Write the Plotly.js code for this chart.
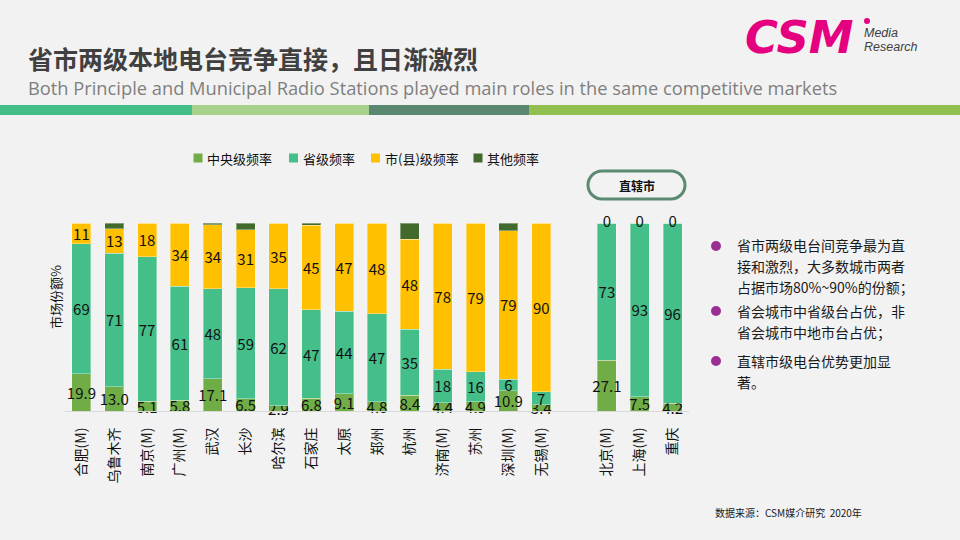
<!DOCTYPE html>
<html>
<head>
<meta charset="utf-8">
<script src="https://cdn.plot.ly/plotly-3.0.1.min.js"></script>
<style>
html,body{margin:0;padding:0;background:#F2F2F2;}
#chart{width:960px;height:540px;}
</style>
</head>
<body>
<div id="chart"></div>
<script>
// ---------- data ----------
const provincialCities = ['合肥(M)','乌鲁木齐','南京(M)','广州(M)','武汉','长沙','哈尔滨','石家庄','太原','郑州','杭州','济南(M)','苏州','深圳(M)','无锡(M)'];
const directCities = ['北京(M)','上海(M)','重庆'];
const cities = provincialCities.concat(directCities);

const centralShare = [19.9,13.0,5.1,5.8,17.1,6.5,2.9,6.8,9.1,4.8,8.4,4.4,4.9,10.9,3.4, 27.1,7.5,4.2];
const provinceShare = [69,71,77,61,48,59,62,47,44,47,35,18,16,6,7, 73,93,96];
const cityShare = [11,13,18,34,34,31,35,45,47,48,48,78,79,79,90, 0,0,0];
const otherShare = [0.1,3,0,0,0.9,3.5,0.1,1.2,0,0.2,8.6,0,0,4.1,0, 0,0,0];

const seriesNames = ['中央级频率','省级频率','市(县)级频率','其他频率'];
const seriesColors = ['#70AD47','#45BF8A','#FFC000','#436A2D'];

const bulletLines = [
  ['省市两级电台间竞争最为直','接和激烈，大多数城市两者','占据市场80%~90%的份额；'],
  ['省会城市中省级台占优，非','省会城市中地市台占优；'],
  ['直辖市级电台优势更加显','著。']
];

// ---------- layout helpers (pixel -> paper) ----------
const M = {l:65, r:271, t:223, b:129};
const PW = 960 - M.l - M.r, PH = 540 - M.t - M.b;
const px = x => (x - M.l) / PW;
const py = y => (540 - M.b - y) / PH;
const CJK = '"Noto Sans CJK SC", "Noto Sans", sans-serif';

const spacer = ' ';
const axisOrder = provincialCities.concat([spacer], directCities);

function barTrace(i, values, labels) {
  return {
    type: 'bar', name: seriesNames[i], x: cities, y: values, showlegend: false,
    marker: {color: seriesColors[i], line: {color: 'rgba(255,255,255,0.35)', width: 1}},
    text: labels, textposition: labels ? 'inside' : 'none',
    insidetextanchor: 'middle', textangle: 0,
    textfont: {family: CJK, size: 15, color: '#111111'},
    cliponaxis: false, hoverinfo: 'skip'
  };
}

const cityLabels = cityShare.map((v, i) => directCities.includes(cities[i]) ? '' : String(v));
const traces = [
  barTrace(0, centralShare, centralShare.map(v => v.toFixed(1))),
  barTrace(1, provinceShare, provinceShare.map(v => String(v))),
  barTrace(2, cityShare, cityLabels),
  barTrace(3, otherShare, null)
];
// zero-height city segments of the direct-controlled municipalities: label at stack top
const directIdx = directCities.map(c => cities.indexOf(c));
traces.push({
  type: 'scatter', mode: 'text', showlegend: false, hoverinfo: 'skip',
  x: directCities, y: directIdx.map(() => 100),
  text: directIdx.map(i => String(cityShare[i])),
  textposition: 'middle center', cliponaxis: false,
  textfont: {family: CJK, size: 15, color: '#111111'}
});

// ---------- decorations ----------
function pillPath(x0, y0, x1, y1) {
  const r = (y1 - y0) / 2, k = 0.5523 * r;
  const P = (x, y) => px(x).toFixed(5) + ',' + py(y).toFixed(5);
  return 'M' + P(x0 + r, y0) + ' L' + P(x1 - r, y0) +
    ' C' + P(x1 - r + k, y0) + ' ' + P(x1, y0 + r - k) + ' ' + P(x1, y0 + r) +
    ' C' + P(x1, y0 + r + k) + ' ' + P(x1 - r + k, y1) + ' ' + P(x1 - r, y1) +
    ' L' + P(x0 + r, y1) +
    ' C' + P(x0 + r - k, y1) + ' ' + P(x0, y0 + r + k) + ' ' + P(x0, y0 + r) +
    ' C' + P(x0, y0 + r - k) + ' ' + P(x0 + r - k, y0) + ' ' + P(x0 + r, y0) + ' Z';
}
function rectShape(x0, y0, x1, y1, color, layer) {
  return {type: 'rect', xref: 'paper', yref: 'paper', x0: px(x0), x1: px(x1), y0: py(y1), y1: py(y0),
    fillcolor: color, line: {width: 0}, layer: layer || 'below'};
}
function circleShape(cx, cy, r, color) {
  return {type: 'circle', xref: 'paper', yref: 'paper', x0: px(cx - r), x1: px(cx + r), y0: py(cy + r), y1: py(cy - r),
    fillcolor: color, line: {width: 0}};
}

const shapes = [
  rectShape(0, 105, 192, 115, '#44BD87'),
  rectShape(192, 105, 369, 115, '#A8D18C'),
  rectShape(369, 105, 529, 115, '#5A8770'),
  rectShape(529, 105, 960, 115, '#92C050'),
  {type: 'path', xref: 'paper', yref: 'paper', path: pillPath(588, 171, 685, 199),
   fillcolor: '#F2F2F2', line: {color: '#5B8A72', width: 3}},
  circleShape(716, 246, 5, '#9A2E92'),
  circleShape(716, 311, 5, '#9A2E92'),
  circleShape(716, 361, 5, '#9A2E92'),
  circleShape(867, 21, 3, '#E4007F')
];

function ann(text, x, y, opts) {
  return Object.assign({text: text, xref: 'paper', yref: 'paper', x: px(x), y: py(y),
    xanchor: 'left', yanchor: 'middle', showarrow: false,
    font: {family: CJK, size: 14, color: '#1a1a1a'}}, opts || {});
}

const annotations = [
  ann('<b>省市两级本地电台竞争直接，且日渐激烈</b>', 26, 58, {font: {family: CJK, size: 25, color: '#404040'}}),
  ann('Both Principle and Municipal Radio Stations played main roles in the same competitive markets', 26, 87,
      {font: {family: '"Open Sans", "Noto Sans", sans-serif', size: 18.3, color: '#7F7F7F'}}),
  ann('CSM', 799, 37, {xanchor: 'center', font: {family: '"DejaVu Sans", sans-serif', size: 45, color: '#E4007F', weight: 900, style: 'italic'}}),
  ann('Media', 862, 33, {font: {family: '"Liberation Sans", sans-serif', size: 12.5, color: '#404040', style: 'italic'}}),
  ann('Research', 862, 47, {font: {family: '"Liberation Sans", sans-serif', size: 12.5, color: '#404040', style: 'italic'}}),
  ann('<b>直辖市</b>', 636.5, 185, {xanchor: 'center', font: {family: CJK, size: 12, color: '#111111'}}),
  ann('市场份额%', 55, 297, {xanchor: 'center', textangle: -90, font: {family: CJK, size: 13, color: '#111111'}}),
  ann('数据来源：CSM媒介研究  2020年', 713, 512, {font: {family: CJK, size: 10, color: '#1a1a1a'}})
];
const bulletY = [[245, 266, 287], [311, 332], [361, 382]];
bulletLines.forEach((lines, b) => lines.forEach((t, j) => annotations.push(ann(t, 735, bulletY[b][j]))));

// legend drawn as key squares + labels, one per series
const legendKeyX = [198, 293.5, 375.5, 478];
seriesNames.forEach((name, i) => {
  shapes.push(rectShape(legendKeyX[i] - 4.5, 153.5, legendKeyX[i] + 4.5, 162.5, seriesColors[i], 'above'));
  annotations.push(ann(name, legendKeyX[i] + 7, 158, {font: {family: CJK, size: 13, color: '#111111'}}));
});

const layout = {
  width: 960, height: 540,
  paper_bgcolor: '#F2F2F2', plot_bgcolor: '#F2F2F2',
  margin: M,
  barmode: 'stack', barnorm: 'percent', bargap: 0.42,
  uniformtext: {mode: 'show', minsize: 15},
  font: {family: CJK, color: '#111111'},
  showlegend: false,
  xaxis: {type: 'category', categoryorder: 'array', categoryarray: axisOrder,
    range: [-0.5, axisOrder.length - 0.5],
    tickangle: -90, ticks: '', ticklabelstandoff: 10,
    tickfont: {family: CJK, size: 14, color: '#111111'},
    showline: true, linecolor: '#D9D9D9', linewidth: 1, showgrid: false, zeroline: false, fixedrange: true},
  yaxis: {range: [0, 100], showticklabels: false, showgrid: false, zeroline: false, showline: false, fixedrange: true},
  shapes: shapes,
  annotations: annotations
};

Plotly.newPlot('chart', traces, layout, {displayModeBar: false, staticPlot: true});
</script>
</body>
</html>
